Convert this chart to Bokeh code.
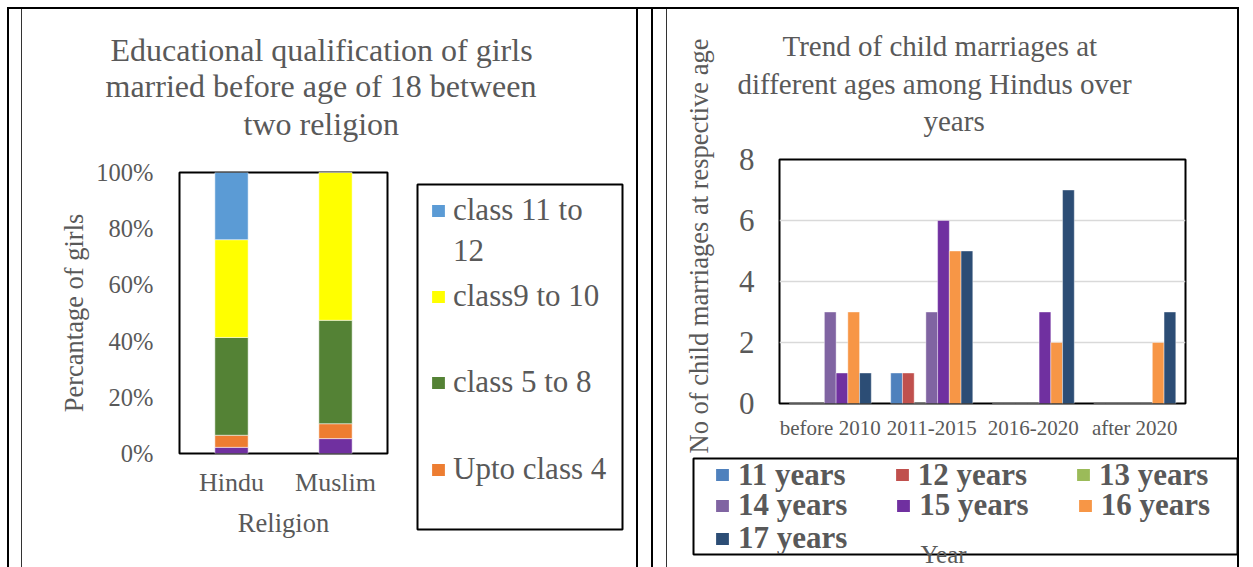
from bokeh.plotting import figure
from bokeh.layouts import row, column
from bokeh.models import (FactorRange, Range1d, Legend, LegendItem, PrintfTickFormatter,
                          FixedTicker, Title, ColumnDataSource)
from bokeh.transform import dodge
from bokeh.embed import file_html
from bokeh.resources import INLINE

# ---------------- data: left chart (percent of girls) ----------------
religions = ["Hindu", "Muslim"]
unlabelled = [2.2, 5.3]          # purple segment (not in legend)
upto_class_4 = [4.3, 5.3]
class_5_to_8 = [34.8, 36.8]
class_9_to_10 = [34.8, 52.6]
class_11_to_12 = [23.9, 0.0]
left_ticks = [0, 20, 40, 60, 80, 100]
left_legend = ["class 11 to", "12", "class9 to 10", "class 5 to 8", "Upto class 4"]

# ---------------- data: right chart (counts) ----------------
periods = ["before 2010", "2011-2015", "2016-2020", "after 2020"]
age_11 = [0, 1, 0, 0]
age_12 = [0, 1, 0, 0]
age_13 = [0, 0, 0, 0]
age_14 = [3, 3, 0, 0]
age_15 = [1, 6, 3, 0]
age_16 = [3, 5, 2, 2]
age_17 = [1, 5, 7, 3]
age_labels = ["11 years", "12 years", "13 years", "14 years", "15 years", "16 years", "17 years"]
right_ticks = [0, 2, 4, 6, 8]

FONT = "Liberation Serif"
TXT = "#595959"
left_colors = ["#7030A0", "#ED7D31", "#548235", "#FFFF00", "#5B9BD5"]
right_colors = ["#4F81BD", "#C0504D", "#9BBB59", "#8064A2", "#7030A0", "#F79646", "#2C4D75"]


def css_lines(specs):
    """specs: list of (color, w, h, x, y) -> CSS background lines (table borders)."""
    return {
        "background-image": ", ".join(f"linear-gradient({c},{c})" for c, *_ in specs),
        "background-size": ", ".join(f"{w}px {h}px" for _, w, h, _x, _y in specs),
        "background-position": ", ".join(f"{x}px {y}px" for *_, x, y in specs),
        "background-repeat": "no-repeat",
    }


def add_title_lines(p, lines, offsets, standoffs, size):
    # p.title is the outermost line; extra titles are stacked outward from the frame
    p.title.text = lines[0]
    p.title.align = "left"
    p.title.offset = offsets[0]
    p.title.standoff = standoffs[0]
    p.title.text_font = FONT
    p.title.text_font_size = size
    p.title.text_font_style = "normal"
    p.title.text_color = TXT
    for txt, off, so in zip(lines[:0:-1], offsets[:0:-1], standoffs[:0:-1]):
        p.add_layout(Title(text=txt, align="left", offset=off, standoff=so, text_font=FONT,
                           text_font_size=size, text_font_style="normal", text_color=TXT), "above")


def style_axis(ax):
    ax.axis_line_color = None
    ax.major_tick_line_color = None
    ax.minor_tick_line_color = None
    ax.major_tick_out = 0
    ax.minor_tick_out = 0
    ax.major_tick_in = 0
    ax.major_label_text_font = FONT
    ax.major_label_text_color = TXT
    ax.axis_label_text_font = FONT
    ax.axis_label_text_color = TXT
    ax.axis_label_text_font_style = "normal"


def blank_fig(w, h, **borders):
    f = figure(width=w, height=h, x_range=Range1d(0, 1), y_range=Range1d(0, 1),
               output_backend="svg", toolbar_location=None, frame_align=False,
               x_axis_location=None, y_axis_location=None, **borders)
    f.grid.visible = False
    f.outline_line_color = None
    f.background_fill_color = None
    f.border_fill_color = None
    return f


def proxy(f, color, alpha=1.0):
    # legend swatch only: a zero-height bar placed outside the visible range
    return f.vbar(x=[5], top=[0], width=0.1, fill_color=color, fill_alpha=alpha, line_color=None)


# ======================= LEFT: title strip =======================
t1 = blank_fig(644, 150, min_border_left=179, min_border_right=257,
               min_border_top=142, min_border_bottom=0)
add_title_lines(t1, ["Educational qualification of girls", "married before age of 18 between",
                     "two religion"], [-69, -74, 64], [-2, -2, 1.5], "32px")

# ======================= LEFT: chart =======================
p1 = figure(width=416, height=417, x_range=FactorRange(*religions), y_range=Range1d(0, 100),
            output_backend="svg", toolbar_location=None, frame_align=False,
            min_border_left=179, min_border_right=29, min_border_top=22, min_border_bottom=114)
p1.background_fill_color = "white"
p1.border_fill_color = None
p1.outline_line_color = "black"
p1.outline_line_width = 2
p1.grid.visible = False

src1 = ColumnDataSource(dict(rel=religions, u=unlabelled, a=upto_class_4, b=class_5_to_8,
                             c=class_9_to_10, d=class_11_to_12))
p1.vbar_stack(["u", "a", "b", "c", "d"], x="rel", width=0.32, source=src1,
              color=left_colors, line_color="white", line_width=0.5)

style_axis(p1.xaxis[0])
style_axis(p1.yaxis[0])
p1.yaxis[0].ticker = FixedTicker(ticks=left_ticks)
p1.yaxis[0].formatter = PrintfTickFormatter(format="%d%%")
p1.yaxis[0].major_label_text_font_size = "24.5px"
p1.yaxis[0].major_label_standoff = 26
p1.yaxis[0].axis_label = "Percantage of girls"
p1.yaxis[0].axis_label_text_font_size = "26.5px"
p1.yaxis[0].axis_label_standoff = 4
p1.xaxis[0].major_label_text_font_size = "26px"
p1.xaxis[0].major_label_standoff = 14
p1.xaxis[0].axis_label = "Religion"
p1.xaxis[0].axis_label_text_font_size = "26.5px"
p1.xaxis[0].axis_label_standoff = 8

# ======================= LEFT: legend box =======================
l1 = blank_fig(228, 417, min_border_left=1, min_border_right=22,
               min_border_top=34, min_border_bottom=38)
l1.outline_line_color = "black"
l1.outline_line_width = 2
l1_colors = [left_colors[4], None, left_colors[3], left_colors[2], left_colors[1]]
l1_y = [301, 260, 215, 129, 42]
for lab, col, yy in zip(left_legend, l1_colors, l1_y):
    r = proxy(l1, col if col else "white", 1.0 if col else 0.0)
    l1.add_layout(Legend(items=[LegendItem(label=lab, renderers=[r])], location=(13, yy),
                         label_text_font=FONT, label_text_font_size="31px",
                         label_text_color=TXT, glyph_width=16, glyph_height=15,
                         label_standoff=7, label_height=36, padding=0, margin=0,
                         border_line_color=None, background_fill_alpha=0.0), "center")

# ======================= RIGHT: chart =======================
p2 = figure(width=609, height=457, x_range=FactorRange(*periods), y_range=Range1d(0, 8),
            output_backend="svg", toolbar_location=None, frame_align=False,
            min_border_left=135, min_border_right=68, min_border_top=159, min_border_bottom=54)
p2.background_fill_color = "white"
p2.border_fill_color = None
p2.outline_line_color = "black"
p2.outline_line_width = 2
p2.xgrid.visible = False
p2.ygrid.grid_line_color = "#D9D9D9"
p2.ygrid.grid_line_width = 1.5
p2.yaxis[0].ticker = FixedTicker(ticks=right_ticks)

src2 = ColumnDataSource(dict(per=periods, a11=age_11, a12=age_12, a13=age_13, a14=age_14,
                             a15=age_15, a16=age_16, a17=age_17))
cols = ["a11", "a12", "a13", "a14", "a15", "a16", "a17"]
bw = 0.1155
for i, (c, col) in enumerate(zip(cols, right_colors)):
    p2.vbar(x=dodge("per", (i - 3) * bw, range=p2.x_range), top=c, width=bw,
            source=src2, fill_color=col, line_color="white", line_width=0.4)

add_title_lines(p2, ["Trend of child marriages at", "different ages among Hindus over",
                     "years"], [3, -42, 144], [38, -39.5, 44.5], "29px")

style_axis(p2.xaxis[0])
style_axis(p2.yaxis[0])
p2.yaxis[0].major_label_text_font_size = "31px"
p2.yaxis[0].major_label_standoff = 25
p2.xaxis[0].major_label_text_font_size = "21px"
p2.xaxis[0].major_label_standoff = 12

p2.add_layout(Title(text="No of child marriages at respective age", align="left", offset=-50,
                    standoff=44, text_font=FONT, text_font_size="26.5px",
                    text_font_style="normal", text_color=TXT), "left")

# ======================= RIGHT: legend box =======================
l2 = blank_fig(609, 110, min_border_left=49, min_border_right=16,
               min_border_top=1, min_border_bottom=13)
l2.outline_line_color = "black"
l2.outline_line_width = 2
l2_rends = [proxy(l2, col) for col in right_colors]
rows_idx = [[0, 1, 2], [3, 4, 5], [6]]
row_y = [61.5, 31, -2]
for idxs, yy in zip(rows_idx, row_y):
    l2.add_layout(Legend(items=[LegendItem(label=age_labels[k], renderers=[l2_rends[k]])
                                for k in idxs],
                         location=(21, yy), orientation="horizontal", margin=0,
                         label_text_font=FONT, label_text_font_size="31px",
                         label_text_font_style="bold", label_text_color=TXT,
                         glyph_width=16, glyph_height=15, label_standoff=8,
                         label_height=30, spacing=48, padding=0,
                         border_line_color=None, background_fill_alpha=0.0), "center")
l2.add_layout(Title(text="Year", align="left", offset=227, standoff=-28, vertical_align="top",
                    text_font=FONT, text_font_size="25px", text_font_style="normal",
                    text_color=TXT), "below")

layout = row(column(t1, row(p1, l1)), column(p2, l2),
             styles=css_lines([("#000", 1231, 2, 7, 7), ("#000", 2, 560, 7, 7),
                               ("#333", 1, 560, 21, 7), ("#000", 2, 560, 636, 7),
                               ("#000", 2, 560, 651, 7), ("#333", 1, 560, 666, 7),
                               ("#000", 2, 560, 1237, 7)]))
open("out.html", "w").write(file_html(layout, INLINE))
